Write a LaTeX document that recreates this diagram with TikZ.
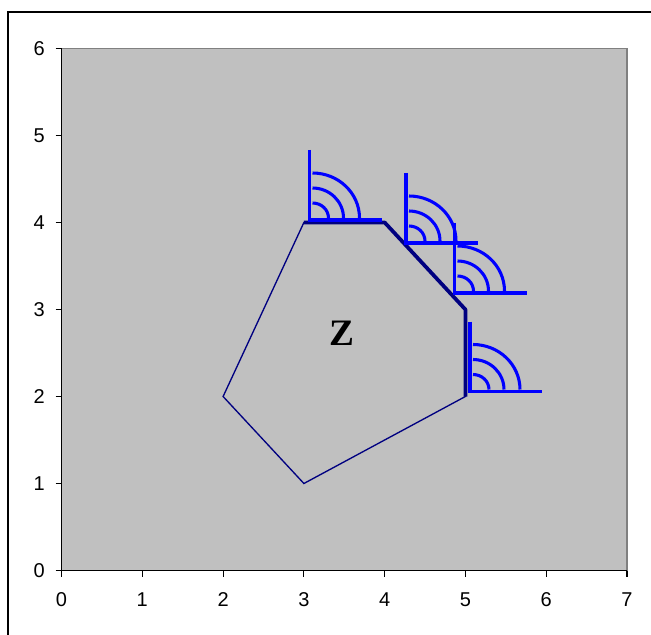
\documentclass[tikz,border=0pt]{standalone}
\usepackage{fontspec}
\setmainfont{Liberation Serif}
\newfontfamily\axisfont{Liberation Sans}
\definecolor{plotgray}{HTML}{C0C0C0}
\definecolor{framegray}{HTML}{808080}
\definecolor{polynavy}{HTML}{000080}
\definecolor{symblue}{HTML}{0000FF}
\tikzset{
  tick/.style={black, line width=0.8pt},
  ticklabel/.style={font=\axisfont\fontsize{15}{15}\selectfont, inner sep=0pt},
  polyline/.style={polynavy, line width=1pt, line join=miter},
  boldedge/.style={polynavy, line width=2.8pt, line join=round},
  symline/.style={symblue, line width=2.3pt},
}
\newcommand{\antsym}[2]{%
  \draw[symline] (#1,#2-70) -- (#1,#2) -- (#1+72,#2);
  \draw[symline] (#1+3,#2-17) arc[start angle=-90,end angle=0,x radius=16,y radius=15];
  \draw[symline] (#1+3,#2-32) arc[start angle=-90,end angle=0,x radius=31,y radius=30];
  \draw[symline] (#1+3,#2-47) arc[start angle=-90,end angle=0,x radius=47,y radius=45];
}
\begin{document}
\begin{tikzpicture}[x=0.75pt,y=-0.75pt]
\useasboundingbox (0,0) rectangle (651,635);
\fill[white] (0,0) rectangle (651,635);
% outer frame (only left and top visible)
\draw[black, line width=0.8pt] (8,635) -- (8,12) -- (651,12);
% plot area
\fill[plotgray] (61.5,48.5) rectangle (627,570.5);
\draw[framegray, line width=0.8pt] (61.5,48.5) -- (627,48.5) -- (627,570.5);
\draw[black, line width=0.8pt] (61.5,48.5) -- (61.5,570.5) -- (627,570.5);
% ticks and labels
\foreach \i in {0,...,7} {
  \draw[tick] (61.5+80.79*\i,570.5) -- (61.5+80.79*\i,576.5);
  \node[ticklabel] at (61.5+80.79*\i,600) {\i};
}
\foreach \j in {0,...,6} {
  \draw[tick] (55.5,570.5-87*\j) -- (61.5,570.5-87*\j);
  \node[ticklabel, anchor=east] at (45,570.5-87*\j) {\j};
}
% polygon vertices
\coordinate (A) at (303.9,222.5);
\coordinate (B) at (384.7,222.5);
\coordinate (C) at (465.4,309.5);
\coordinate (D) at (465.4,396.5);
\coordinate (E) at (303.9,483.5);
\coordinate (F) at (223.1,396.5);
\draw[polyline] (A) -- (B) -- (C) -- (D) -- (E) -- (F) -- cycle;
\draw[boldedge] (A) -- (B) -- (C) -- (D);
\node[font=\bfseries\fontsize{28}{28}\selectfont] (Z) at (341.7,333) {Z};
% antenna symbols
\antsym{309.5}{220}
\antsym{406}{243}
\antsym{454.5}{293}
\antsym{470}{391.5}
\end{tikzpicture}
\end{document}
